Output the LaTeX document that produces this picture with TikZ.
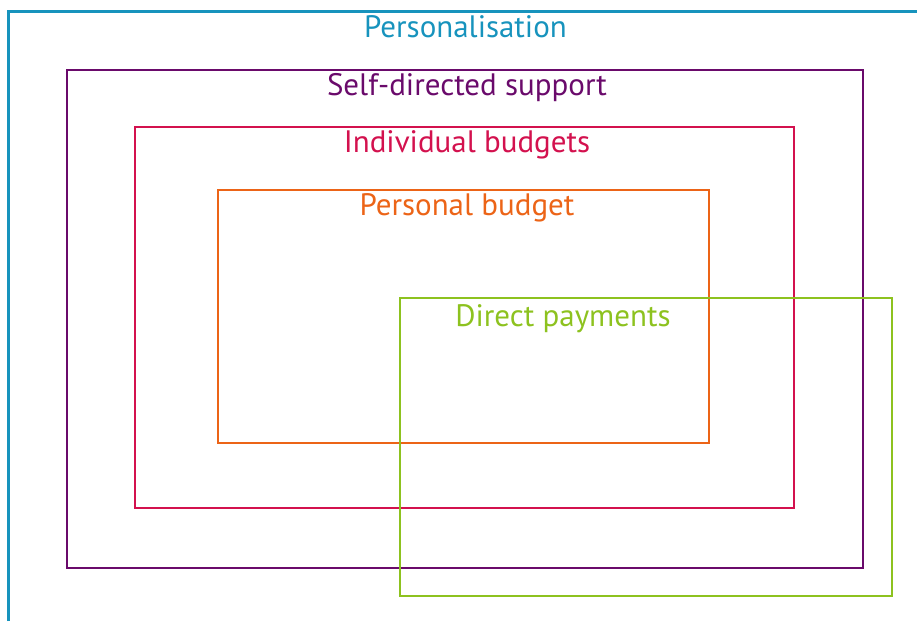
\documentclass[tikz,border=0pt]{standalone}
\usepackage{fontspec}
\setmainfont{PT Sans}
\usepackage{tikz}
\usetikzlibrary{positioning}

\definecolor{persblue}{HTML}{1793BD}
\definecolor{sdspurple}{HTML}{6A0A6B}
\definecolor{ibred}{HTML}{D3114E}
\definecolor{pborange}{HTML}{EC6417}
\definecolor{dpgreen}{HTML}{8DC21F}

\begin{document}
\begin{tikzpicture}[
    x=1pt, y=-1pt,
    box/.style = {line width=2.6pt},
    title/.style = {anchor=base, inner sep=0pt, font=\fontsize{31}{36}\selectfont}
  ]

  \useasboundingbox (0,0) rectangle (917,621);

  % Personalisation: open frame running off the right and bottom
  \coordinate (pers-bl) at (8.5,621);
  \coordinate (pers-tl) at (8.5,11.5);
  \coordinate (pers-tr) at (917,11.5);
  \draw[box, persblue] (pers-bl) -- (pers-tl) -- (pers-tr);
  \node[title, text=persblue] (pers) at (465.5,37) {Personalisation};

  % Self-directed support
  \draw[box, sdspurple] (67,70) rectangle (863,568);
  \node[title, text=sdspurple] (sds) at (467,95) {Self-directed support};

  % Individual budgets
  \draw[box, ibred] (135,127) rectangle (794,508);
  \node[title, text=ibred] (ib) at (467,152) {Individual budgets};

  % Personal budget
  \draw[box, pborange] (218,190) rectangle (709,443);
  \node[title, text=pborange] (pb) at (467,215) {Personal budget};

  % Direct payments, overlapping the others
  \draw[box, dpgreen] (400,298) rectangle (892,596);
  \node[title, text=dpgreen] (dp) at (563,326) {Direct payments};

\end{tikzpicture}
\end{document}
